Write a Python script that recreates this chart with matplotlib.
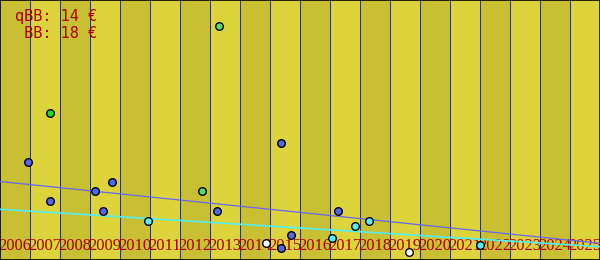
import numpy as np
import matplotlib
matplotlib.use("Agg")
import matplotlib.pyplot as plt

# years shown as bands along the bottom
years = list(range(2006, 2026))

# price observations (year as decimal, price in arbitrary units)
blue_x = [2006.94, 2007.67, 2009.18, 2009.44, 2009.74, 2013.24, 2015.38, 2015.38, 2015.71, 2017.28]
blue_y = [9.77, 5.87, 6.87, 4.87, 7.77, 4.87, 11.67, 1.17, 2.47, 4.87]
cyan_x = [2010.94, 2017.08, 2017.84, 2018.31, 2022.01]
cyan_y = [3.87, 2.17, 3.37, 3.87, 1.47]
green_x = [2007.67]
green_y = [14.67]
lgreen_x = [2013.31, 2012.72]
lgreen_y = [23.37, 6.87]
white_x = [2014.88, 2019.64]
white_y = [1.67, 0.77]

# trend lines (start / end)
trend_x = [2006, 2026]
trend_blue = [7.85, 1.67]
trend_cyan = [5.07, 1.33]

fig = plt.figure(figsize=(6, 2.6), dpi=100)
ax = fig.add_axes([0, 0, 1, 1])
ax.set_xlim(2006, 2026)
ax.set_ylim(0, 26)

light = '#ddd43c'
dark = '#c9bf33'
for i, y in enumerate(years):
    ax.axvspan(y, y + 1, color=dark if i % 2 == 0 else light, lw=0, zorder=0)
    if i > 0:
        ax.axvline(y, color='#33334a', lw=0.72, zorder=1, antialiased=False)
    ax.text(y + 0.5, 1.0, str(y), ha='center', va='baseline', color='#aa0000',
            family='Liberation Serif', fontsize=12, zorder=2)

ax.plot(trend_x, trend_blue, color='#6666ee', lw=0.9, zorder=3)
ax.plot(trend_x, trend_cyan, color='#55eeee', lw=1.2, zorder=3)

kw = dict(s=30, edgecolors='black', linewidths=1, zorder=4)
ax.scatter(blue_x, blue_y, c='#5566ee', **kw)
ax.scatter(cyan_x, cyan_y, c='#55eeff', **kw)
ax.scatter(green_x, green_y, c='#22dd22', **kw)
ax.scatter(lgreen_x, lgreen_y, c='#55dd66', **kw)
ax.scatter(white_x, white_y, c='white', **kw)

ax.text(0.162, 0.905, 'qBB: 14 €\n BB: 18 €', transform=ax.transAxes, ha='right', va='center',
        family='DejaVu Sans Mono', fontsize=11, color='#aa0000', linespacing=1.2, zorder=5)

ax.set_xticks([])
ax.set_yticks([])
for s in ax.spines.values():
    s.set_color('black')
    s.set_linewidth(1.2)

fig.savefig('out.png', dpi=100)
